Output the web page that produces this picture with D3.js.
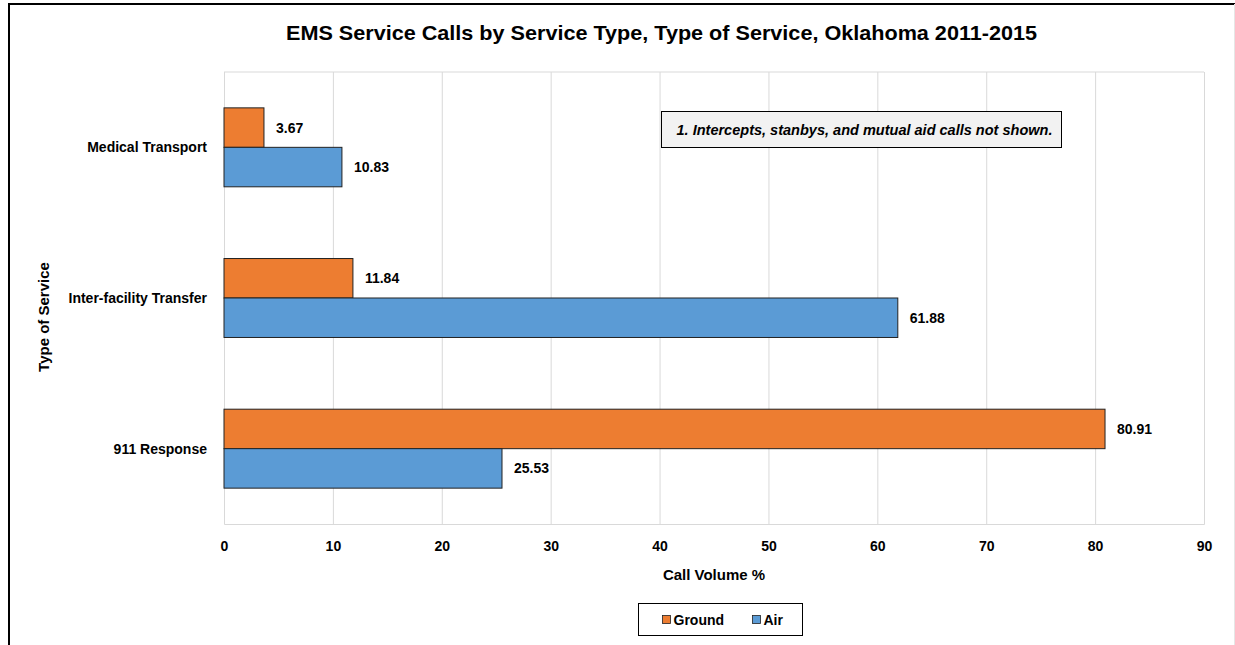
<!DOCTYPE html>
<html>
<head>
<meta charset="utf-8">
<script src="https://cdn.jsdelivr.net/npm/d3@7"></script>
<style>
  body { margin: 0; background: #fff; }
  svg { display: block; font-family: "Liberation Sans", Arial, sans-serif; }
</style>
</head>
<body>
<svg></svg>
<script>
// Data
const categories = ["Medical Transport", "Inter-facility Transfer", "911 Response"]
const seriesNames = ["Ground", "Air"]
const ground = [3.67, 11.84, 80.91]
const air = [10.83, 61.88, 25.53]
const xTicks = [0, 10, 20, 30, 40, 50, 60, 70, 80, 90]

const chartTitle = "EMS Service Calls by Service Type, Type of Service, Oklahoma 2011-2015"
const xAxisLabel = "Call Volume %"
const yAxisLabel = "Type of Service"
const note = "1. Intercepts, stanbys, and mutual aid calls not shown."

// Svg size
const width = 1235
const height = 645

const svg = d3.select("svg")
    .attr("width", width)
    .attr("height", height)

const margin = { top: 72, right: 31, bottom: 121, left: 224 }
const innerWidth = width - margin.left - margin.right
const innerHeight = height - margin.top - margin.bottom

const orange = "#ed7d31"
const blue = "#5b9bd5"
const colors = [orange, blue]

const rows = categories.map((c, i) => ({ cat: c, values: [ground[i], air[i]] }))

// Frame
svg.append("line").attr("x1", 9).attr("x2", 9).attr("y1", 3).attr("y2", height)
    .attr("stroke", "#000").attr("stroke-width", 2)
svg.append("line").attr("x1", 8).attr("x2", width).attr("y1", 4).attr("y2", 4)
    .attr("stroke", "#000").attr("stroke-width", 2)
svg.append("line").attr("x1", width - 0.5).attr("x2", width - 0.5).attr("y1", 4).attr("y2", height)
    .attr("stroke", "#e6e6e6").attr("stroke-width", 1)

// Scales
const xScale = d3.scaleLinear().domain([0, 90]).range([0, innerWidth])
const yScale = d3.scaleBand().domain(categories).range([0, innerHeight])
    .paddingInner(0.476).paddingOuter(0.238)
const subScale = d3.scaleBand().domain(seriesNames).range([0, yScale.bandwidth()])

const g = svg.append("g").attr("transform", `translate(${margin.left},${margin.top})`)

// Grid + x axis
const xAxis = d3.axisBottom(xScale).tickValues(xTicks).tickSize(-innerHeight).tickPadding(12)
const xAxisG = g.append("g").attr("transform", `translate(0,${innerHeight})`).call(xAxis)
xAxisG.select(".domain").attr("stroke", "#d9d9d9")
xAxisG.selectAll(".tick line").attr("stroke", "#d9d9d9")
xAxisG.selectAll(".tick text")
    .attr("dy", null)
    .attr("y", 27)
    .attr("font-size", "14px").attr("font-weight", "bold").attr("fill", "#000")
    .attr("font-family", "Liberation Sans, Arial, sans-serif")
g.append("line").attr("x1", 0).attr("x2", innerWidth).attr("y1", 0).attr("y2", 0)
    .attr("stroke", "#d9d9d9")

// Bars
const groups = g.selectAll(".grp").data(rows).join("g")
    .attr("transform", d => `translate(0,${yScale(d.cat)})`)

groups.selectAll("rect").data(d => d.values.map((v, i) => ({ v, s: seriesNames[i], i })))
    .join("rect")
    .attr("x", 0)
    .attr("y", d => subScale(d.s))
    .attr("width", d => xScale(d.v))
    .attr("height", subScale.bandwidth())
    .attr("fill", d => colors[d.i])
    .attr("stroke", "#222")
    .attr("stroke-width", 1)

groups.selectAll("text.val").data(d => d.values.map((v, i) => ({ v, s: seriesNames[i] })))
    .join("text")
    .attr("class", "val")
    .attr("x", d => xScale(d.v) + 12)
    .attr("y", d => subScale(d.s) + subScale.bandwidth() / 2 + 5)
    .attr("font-size", "14px")
    .attr("font-weight", "bold")
    .text(d => d.v.toFixed(2))

// Category labels
const yAxis = d3.axisLeft(yScale).tickSize(0).tickPadding(17)
const yAxisG = g.append("g").call(yAxis)
yAxisG.select(".domain").remove()
yAxisG.selectAll(".tick text")
    .attr("dy", null)
    .attr("y", 5)
    .attr("font-size", "14px").attr("font-weight", "bold").attr("fill", "#000")
    .attr("font-family", "Liberation Sans, Arial, sans-serif")

// Axis titles
g.append("text")
    .attr("transform", `translate(${-175},${245}) rotate(-90)`)
    .attr("text-anchor", "middle")
    .attr("font-size", "15px")
    .attr("font-weight", "bold")
    .text(yAxisLabel)

g.append("text")
    .attr("x", innerWidth / 2)
    .attr("y", innerHeight + 56)
    .attr("text-anchor", "middle")
    .attr("font-size", "15px")
    .attr("font-weight", "bold")
    .text(xAxisLabel)

// Title
svg.append("text")
    .attr("x", 286)
    .attr("y", 40)
    .attr("font-size", "21px")
    .attr("font-weight", "bold")
    .attr("textLength", 751)
    .attr("lengthAdjust", "spacingAndGlyphs")
    .text(chartTitle)

// Note box
const noteG = svg.append("g").attr("transform", "translate(661.5,111.5)")
noteG.append("rect").attr("width", 400).attr("height", 36)
    .attr("fill", "#f2f2f2").attr("stroke", "#000").attr("stroke-width", 1)
noteG.append("text")
    .attr("x", 15).attr("y", 23)
    .attr("font-size", "14px").attr("font-weight", "bold").attr("font-style", "italic")
    .attr("textLength", 376)
    .attr("lengthAdjust", "spacingAndGlyphs")
    .text(note)

// Legend
const legend = svg.append("g").attr("transform", "translate(638.5,603.5)")
legend.append("rect").attr("width", 164).attr("height", 32)
    .attr("fill", "#fff").attr("stroke", "#000").attr("stroke-width", 1)
const legendX = [24, 114]
seriesNames.forEach((s, i) => {
    legend.append("rect")
        .attr("x", legendX[i]).attr("y", 12)
        .attr("width", 8).attr("height", 8)
        .attr("fill", colors[i]).attr("stroke", "#222").attr("stroke-width", 0.8)
    legend.append("text")
        .attr("x", legendX[i] + 11).attr("y", 21)
        .attr("font-size", "14px").attr("font-weight", "bold")
        .text(s)
})
</script>
</body>
</html>
